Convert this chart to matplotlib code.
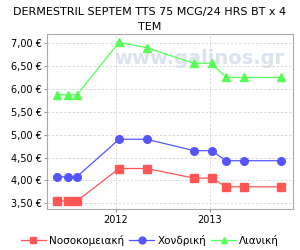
import datetime as dt
import matplotlib
matplotlib.use("Agg")
from matplotlib import pyplot as plt
from matplotlib import dates as mdates
from matplotlib.ticker import FuncFormatter

dates = [dt.date(2011, 5, 15), dt.date(2011, 6, 27), dt.date(2011, 8, 2),
         dt.date(2012, 1, 14), dt.date(2012, 4, 30), dt.date(2012, 11, 1),
         dt.date(2013, 1, 8), dt.date(2013, 3, 6), dt.date(2013, 5, 16),
         dt.date(2013, 10, 6)]
hospital = [3.55, 3.55, 3.55, 4.26, 4.26, 4.05, 4.05, 3.86, 3.86, 3.86]
wholesale = [4.08, 4.08, 4.08, 4.90, 4.90, 4.65, 4.65, 4.43, 4.43, 4.43]
retail = [5.87, 5.87, 5.87, 7.02, 6.90, 6.56, 6.56, 6.25, 6.25, 6.25]
labels = ["Νοσοκομειακή", "Χονδρική", "Λιανική"]
title = "DERMESTRIL SEPTEM TTS 75 MCG/24 HRS BT x 4\nTEM"

plt.rcParams['font.family'] = 'DejaVu Sans'
fig = plt.figure(figsize=(3, 2.5), dpi=100)
ax = fig.add_axes([0.157, 0.164, 0.82, 0.70])

ax.plot(dates, hospital, color='#FF5555', marker='s', markersize=5.5, lw=0.9, label=labels[0])
ax.plot(dates, wholesale, color='#5555FF', marker='o', markersize=5.5, lw=0.9, label=labels[1])
ax.plot(dates, retail, color='#55FF55', marker='^', markersize=5.5, lw=0.9, label=labels[2])

ax.text(0.62, 0.86, "www.galinos.gr", transform=ax.transAxes, ha='center', va='center',
        fontsize=14, fontweight='bold', color='#dae3ef', zorder=0)

ax.set_xlim(dt.date(2011, 4, 8), dt.date(2013, 11, 22))
ax.set_ylim(3.375, 7.2)
ax.set_yticks([3.5, 4.0, 4.5, 5.0, 5.5, 6.0, 6.5, 7.0])
ax.yaxis.set_major_formatter(FuncFormatter(lambda v, p: f"{v:.2f} €".replace('.', ',')))
ax.xaxis.set_major_locator(mdates.YearLocator())
ax.xaxis.set_major_formatter(mdates.DateFormatter('%Y'))
ax.tick_params(labelsize=7, length=2, color='#999999', pad=2)
ax.grid(True, color='#d5d5d5', linestyle=(0, (3, 2)), linewidth=0.6)
ax.set_axisbelow(True)
for s in ax.spines.values():
    s.set_color('#aaaaaa')
    s.set_linewidth(0.8)

fig.suptitle(title, fontsize=8, y=0.97, linespacing=1.5)
fig.legend(loc='lower center', bbox_to_anchor=(0.5, -0.02), ncol=3, fontsize=7.5, frameon=False,
           handlelength=2.4, handletextpad=0.3, columnspacing=0.5, markerscale=0.9)

fig.savefig("out.png", dpi=100)
